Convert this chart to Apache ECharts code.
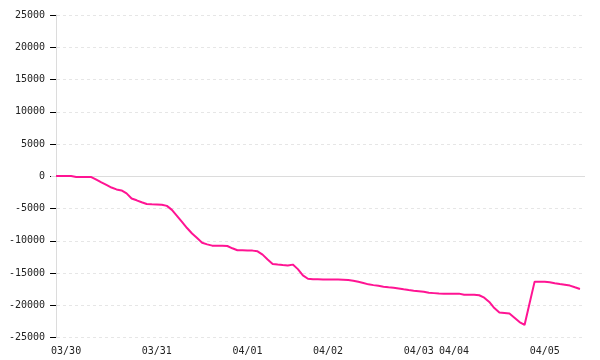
<!DOCTYPE html>
<html>
<head>
<meta charset="utf-8">
<script src="https://cdn.jsdelivr.net/npm/echarts@6/dist/echarts.min.js"></script>
<style>html,body{margin:0;padding:0;background:#fff}#c{width:600px;height:360px}</style>
</head>
<body>
<div id="c"></div>
<script>
// series values, one per time slot
const values = [
  50, 50, 50, 50, -100, -100, -100, -120, -530, -950,
  -1350, -1750, -2040, -2200, -2660, -3440, -3730, -4030, -4300, -4340,
  -4370, -4420, -4590, -5210, -6130, -7070, -8030, -8880, -9580, -10310,
  -10560, -10760, -10770, -10790, -10810, -11170, -11470, -11490, -11520, -11530,
  -11640, -12150, -12900, -13590, -13680, -13760, -13820, -13700, -14400, -15360,
  -15890, -15970, -15980, -15990, -16000, -16010, -16020, -16030, -16070, -16190,
  -16360, -16560, -16760, -16880, -16990, -17120, -17220, -17300, -17400, -17530,
  -17650, -17750, -17830, -17920, -18060, -18120, -18190, -18200, -18200, -18200,
  -18200, -18360, -18360, -18360, -18450, -18820, -19490, -20430, -21110, -21200,
  -21290, -21940, -22600, -23050, -19700, -16340, -16340, -16340, -16430, -16580,
  -16720, -16830, -16950, -17220, -17470
];
// x tick labels and the time slot each one marks
const dateLabels = ['03/30', '03/31', '04/01', '04/02', '04/03', '04/04', '04/05'];
const dateLabelSlots = [2, 20, 38, 54, 72, 79, 97];
// y tick labels
const yTicks = [-25000, -20000, -15000, -10000, -5000, 0, 5000, 10000, 15000, 20000, 25000];

const chart = echarts.init(document.getElementById('c'), null, {renderer: 'canvas'});
const font = 'DejaVu Sans Mono';
chart.setOption({
  animation: false,
  grid: {left: 51, right: 15, top: 15, bottom: 22.5},
  xAxis: {
    type: 'value',
    min: -1,
    max: values.length,
    axisLine: {show: false},
    axisTick: {show: false},
    splitLine: {show: false},
    axisLabel: {
      customValues: dateLabelSlots,
      formatter: function (v) {
        const i = dateLabelSlots.indexOf(Math.round(v));
        return i >= 0 ? dateLabels[i] : '';
      },
      fontFamily: font, fontSize: 10, color: '#222', margin: 9
    }
  },
  yAxis: {
    type: 'value',
    min: yTicks[0],
    max: yTicks[yTicks.length - 1],
    interval: 5000,
    axisLine: {show: true, lineStyle: {color: '#dcdcdc', width: 1}},
    axisTick: {show: true, length: 6, lineStyle: {color: '#000', width: 1}},
    axisLabel: {
      formatter: function (v) { return String(v); },
      fontFamily: font, fontSize: 10, color: '#222', margin: 6
    },
    splitLine: {show: true, lineStyle: {color: '#e6e6e6', type: [3, 3], width: 1}}
  },
  series: [{
    type: 'line',
    data: values.map((v, i) => [i, v]),
    showSymbol: false,
    symbol: 'none',
    lineStyle: {color: '#ff1493', width: 2},
    markLine: {
      silent: true,
      symbol: 'none',
      label: {show: false},
      lineStyle: {color: '#dcdcdc', type: 'solid', width: 1},
      data: [{yAxis: 0}],
      z: 1
    },
    z: 3
  }]
});
</script>
</body>
</html>
